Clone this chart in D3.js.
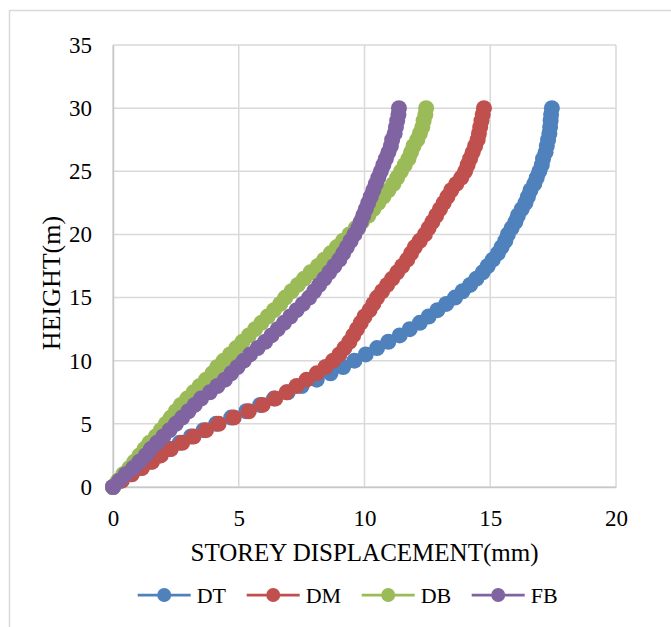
<!DOCTYPE html>
<html>
<head>
<meta charset="utf-8">
<script src="https://cdn.jsdelivr.net/npm/d3@7"></script>
<style>
  html, body { margin: 0; padding: 0; background: #fff; }
  svg { display: block; }
</style>
</head>
<body>
<svg id="chart" width="671" height="627"></svg>
<script>
// Storey heights (m), sampled every 0.5 m
const heights = [
  0, 0.5, 1, 1.5, 2, 2.5, 3, 3.5, 4, 4.5, 5, 5.5, 6, 6.5, 7, 7.5, 8, 8.5, 9, 9.5,
  10, 10.5, 11, 11.5, 12, 12.5, 13, 13.5, 14, 14.5, 15, 15.5, 16, 16.5, 17, 17.5, 18, 18.5, 19, 19.5,
  20, 20.5, 21, 21.5, 22, 22.5, 23, 23.5, 24, 24.5, 25, 25.5, 26, 26.5, 27, 27.5, 28, 28.5, 29, 29.5, 30
];

// Storey displacement (mm) at each height
const dtValues = [
  0, 0.3, 0.7, 1.1, 1.5, 1.85, 2.25, 2.65, 3.1, 3.6, 4.1, 4.7, 5.3, 5.85, 6.4, 6.95, 7.5, 8.1, 8.65, 9.15,
  9.6, 10.05, 10.5, 10.95, 11.4, 11.8, 12.2, 12.55, 12.9, 13.25, 13.6, 13.9, 14.2, 14.45, 14.7, 14.9, 15.1, 15.3, 15.45, 15.6,
  15.7, 15.85, 16.0, 16.1, 16.25, 16.4, 16.5, 16.6, 16.75, 16.85, 16.95, 17.05, 17.1, 17.2, 17.25, 17.3, 17.35, 17.38, 17.4, 17.42, 17.45
];
const dmValues = [
  0, 0.35, 0.75, 1.15, 1.55, 1.9, 2.3, 2.75, 3.2, 3.7, 4.2, 4.8, 5.4, 5.95, 6.45, 6.9, 7.3, 7.7, 8.1, 8.45,
  8.75, 9.0, 9.2, 9.4, 9.55, 9.7, 9.85, 10.0, 10.2, 10.35, 10.5, 10.7, 10.9, 11.1, 11.3, 11.5, 11.7, 11.85, 12.0, 12.2,
  12.4, 12.55, 12.7, 12.85, 13.0, 13.15, 13.3, 13.45, 13.65, 13.85, 14.0, 14.1, 14.2, 14.3, 14.4, 14.5, 14.55, 14.6, 14.65, 14.7, 14.75
];
const dbValues = [
  0, 0.2, 0.4, 0.65, 0.85, 1.05, 1.25, 1.45, 1.7, 1.9, 2.1, 2.3, 2.5, 2.7, 2.95, 3.2, 3.45, 3.7, 3.95, 4.15,
  4.4, 4.65, 4.9, 5.15, 5.4, 5.65, 5.9, 6.15, 6.4, 6.65, 6.85, 7.1, 7.35, 7.6, 7.85, 8.15, 8.4, 8.65, 8.9, 9.15,
  9.4, 9.65, 9.9, 10.15, 10.35, 10.55, 10.75, 10.95, 11.15, 11.3, 11.45, 11.6, 11.75, 11.85, 11.95, 12.1, 12.2, 12.3, 12.35, 12.42, 12.45
];
const fbValues = [
  0, 0.25, 0.5, 0.8, 1.05, 1.3, 1.5, 1.75, 2.0, 2.25, 2.5, 2.75, 3.0, 3.25, 3.5, 3.85, 4.15, 4.45, 4.7, 4.95,
  5.2, 5.45, 5.75, 6.05, 6.3, 6.55, 6.8, 7.05, 7.3, 7.55, 7.8, 8.0, 8.2, 8.4, 8.6, 8.8, 9.0, 9.15, 9.3, 9.45,
  9.6, 9.75, 9.85, 9.95, 10.05, 10.15, 10.25, 10.35, 10.45, 10.55, 10.65, 10.75, 10.85, 10.95, 11.05, 11.1, 11.2, 11.25, 11.3, 11.35, 11.37
];

const seriesNames = ["DT", "DM", "DB", "FB"];
const seriesColors = ["#4f81bd", "#c0504d", "#9bbb59", "#8064a2"];
const xTicks = [0, 5, 10, 15, 20];
const yTicks = [0, 5, 10, 15, 20, 25, 30, 35];

const FONT = '"Liberation Serif", "DejaVu Serif", "Noto Serif", serif';

const series = [dtValues, dmValues, dbValues, fbValues].map((vals, i) => ({
  name: seriesNames[i],
  color: seriesColors[i],
  points: vals.map((v, j) => ({ x: v, y: heights[j] }))
}));

const svg = d3.select("#chart");

// Outer chart frame
svg.append("rect")
  .attr("x", 9.5).attr("y", 10.5)
  .attr("width", 700).attr("height", 700)
  .attr("fill", "none").attr("stroke", "#d9d9d9").attr("stroke-width", 1.5);

const plot = { left: 113, right: 616, top: 45, bottom: 487 };
const x = d3.scaleLinear().domain([0, 20]).range([plot.left, plot.right]);
const y = d3.scaleLinear().domain([0, 35]).range([plot.bottom, plot.top]);

// Gridlines
const grid = svg.append("g");
grid.selectAll("line.h").data(yTicks).join("line")
  .attr("x1", plot.left).attr("x2", plot.right)
  .attr("y1", d => y(d)).attr("y2", d => y(d))
  .attr("stroke", "#d9d9d9").attr("stroke-width", 1.5);
grid.selectAll("line.v").data(xTicks).join("line")
  .attr("y1", plot.top).attr("y2", plot.bottom)
  .attr("x1", d => x(d)).attr("x2", d => x(d))
  .attr("stroke", "#d9d9d9").attr("stroke-width", 1.5);

// Axes
const xAxis = svg.append("g")
  .attr("transform", `translate(0,${plot.bottom})`)
  .call(d3.axisBottom(x).tickValues(xTicks).tickSize(0).tickPadding(23).tickFormat(d3.format("d")));
const yAxis = svg.append("g")
  .attr("transform", `translate(${plot.left},0)`)
  .call(d3.axisLeft(y).tickValues(yTicks).tickSize(0).tickPadding(21).tickFormat(d3.format("d")));
[xAxis, yAxis].forEach(a => {
  a.attr("font-family", FONT).attr("font-size", 23);
  a.select(".domain").attr("stroke", "#c8c8c8").attr("stroke-width", 1.5);
  a.selectAll("text").attr("fill", "#000");
});
xAxis.selectAll("text").attr("dy", "0.71em");

// Axis titles
svg.append("text")
  .attr("x", (plot.left + plot.right) / 2).attr("y", 561)
  .attr("text-anchor", "middle")
  .attr("font-family", FONT).attr("font-size", 25)
  .text("STOREY DISPLACEMENT(mm)");
svg.append("text")
  .attr("transform", "translate(60,283) rotate(-90)")
  .attr("text-anchor", "middle")
  .attr("font-family", FONT).attr("font-size", 26)
  .text("HEIGHT(m)");

// Series: connecting line plus circular markers at every sample
const line = d3.line().x(d => x(d.x)).y(d => y(d.y));
const seriesG = svg.append("g").selectAll("g").data(series).join("g");
seriesG.append("path")
  .attr("d", d => line(d.points))
  .attr("fill", "none").attr("stroke", d => d.color).attr("stroke-width", 2.25);
seriesG.each(function (s) {
  d3.select(this).selectAll("circle").data(s.points).join("circle")
    .attr("cx", d => x(d.x)).attr("cy", d => y(d.y)).attr("r", 8)
    .attr("fill", s.color);
});

// Legend
const legendX = [137.7, 246.7, 361.7, 471.7];
const legendY = 595;
const legend = svg.append("g").selectAll("g").data(series).join("g")
  .attr("transform", (d, i) => `translate(${legendX[i]},${legendY})`);
legend.append("line")
  .attr("x1", 0).attr("x2", 53).attr("y1", 0).attr("y2", 0)
  .attr("stroke", d => d.color).attr("stroke-width", 2.75);
legend.append("circle")
  .attr("cx", 26.5).attr("cy", 0).attr("r", 7)
  .attr("fill", d => d.color);
legend.append("text")
  .attr("x", 59).attr("y", 0).attr("dy", "0.35em")
  .attr("font-family", FONT).attr("font-size", 22)
  .text(d => d.name);
</script>
</body>
</html>
